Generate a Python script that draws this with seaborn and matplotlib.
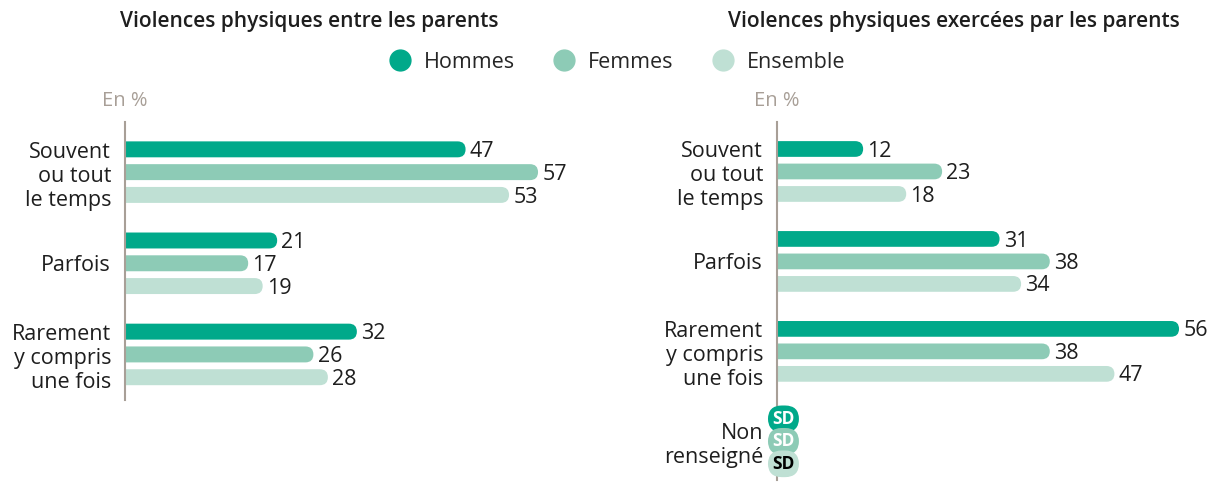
import numpy as np
import pandas as pd
import matplotlib.pyplot as plt
import seaborn as sns
from matplotlib.patches import FancyBboxPatch
from matplotlib.lines import Line2D

# Données (data)
groupes = ["Hommes", "Femmes", "Ensemble"]
couleurs = ["#00a98a", "#8dcbb6", "#bfe0d4"]

cats_gauche = ["Souvent\nou tout\nle temps", "Parfois", "Rarement\ny compris\nune fois"]
hommes_gauche = [47, 21, 32]
femmes_gauche = [57, 17, 26]
ensemble_gauche = [53, 19, 28]

cats_droite = ["Souvent\nou tout\nle temps", "Parfois", "Rarement\ny compris\nune fois", "Non\nrenseigné"]
hommes_droite = [12, 31, 56, np.nan]
femmes_droite = [23, 38, 38, np.nan]
ensemble_droite = [18, 34, 47, np.nan]

titre_gauche = "Violences physiques entre les parents"
titre_droite = "Violences physiques exercées par les parents"

sns.set_style("white")
plt.rcParams['font.family'] = ['Open Sans', 'DejaVu Sans']
gris = "#a89f97"
noir = "#1e1e1e"

W, H = 1209, 494
fig = plt.figure(figsize=(W / 100, H / 100), dpi=100)

def tableau(cats, h, f, e):
    rows = []
    for serie, vals in zip(groupes, [h, f, e]):
        for c, v in zip(cats, vals):
            rows.append({"cat": c, "val": v, "groupe": serie})
    return pd.DataFrame(rows)

def panneau(rect_px, cats, h, f, e, xmax, ymax, titre, titre_x):
    left, top, right, bottom = rect_px
    ax = fig.add_axes([left / W, 1 - bottom / H, (right - left) / W, (bottom - top) / H])
    df = tableau(cats, h, f, e)
    sns.barplot(data=df, y="cat", x="val", hue="groupe", order=cats, hue_order=groupes,
                palette=couleurs, orient="h", width=0.75, gap=0.3, legend=False,
                saturation=1, ax=ax)
    ax.set_xlim(0, xmax)
    ax.set_ylim(ymax, -0.55)

    # coins arrondis pour les barres
    ppx_x = (right - left) / xmax
    ppx_y = (bottom - top) / (ymax + 0.55)
    asp = ppx_x / ppx_y
    r = 8 / ppx_x
    for p in list(ax.patches):
        w = p.get_width()
        if not np.isfinite(w) or w <= 0:
            p.remove()
            continue
        y, hh = p.get_y(), p.get_height()
        col = p.get_facecolor()
        p.remove()
        box = FancyBboxPatch((-r * 1.5, y), w + r * 1.5, hh,
                             boxstyle=f"round,pad=0,rounding_size={r}",
                             mutation_aspect=asp, fc=col, ec="none")
        ax.add_patch(box)
        ax.annotate(f"{int(round(w))}", xy=(w, y + hh / 2), xytext=(3, -1.5),
                    textcoords="offset points", va="center", ha="left",
                    fontsize=15.5, color=noir)

    ax.set_yticks(range(len(cats)))
    ax.set_yticklabels(cats, fontsize=15.5, linespacing=1.2, color=noir)
    ax.tick_params(axis="y", length=0, pad=10)
    ax.set_xticks([])
    ax.set_xlabel("")
    ax.set_ylabel("")
    for s in ["top", "right", "bottom"]:
        ax.spines[s].set_visible(False)
    ax.spines["left"].set_color(gris)
    ax.spines["left"].set_linewidth(1.5)
    ax.annotate("En %", xy=(0, 1), xycoords="axes fraction", xytext=(0, 15),
                textcoords="offset points", ha="center", va="center",
                fontsize=14.5, color=gris)
    fig.text(titre_x / W, 1 - 22 / H, titre, ha="left", va="center",
             fontsize=15, fontweight="semibold", color=noir)
    return ax

panneau((125, 122, 596, 400), cats_gauche, hommes_gauche, femmes_gauche, ensemble_gauche,
        65, 2.5, titre_gauche, 120)
ax2 = panneau((777, 122, 1197, 480), cats_droite, hommes_droite, femmes_droite, ensemble_droite,
              58.5, 3.43, titre_droite, 728)

# étiquettes SD pour "Non renseigné"
for i, (col, tc) in enumerate(zip(couleurs, ["white", "white", "black"])):
    ax2.text(0.9, 3 - 0.25 + i * 0.25, "SD", ha="center", va="center", fontsize=12.5,
             fontweight="bold", color=tc,
             bbox=dict(boxstyle="round,pad=0.25,rounding_size=0.8", fc=col, ec="none"))

handles = [Line2D([], [], marker="o", ls="", markersize=15, color=c) for c in couleurs]
fig.legend(handles, groupes, loc="center", bbox_to_anchor=(612 / W, 1 - 62 / H), ncol=3,
           frameon=False, fontsize=15.5, handletextpad=0.1, columnspacing=1.3)

plt.savefig("out.png", dpi=100)
